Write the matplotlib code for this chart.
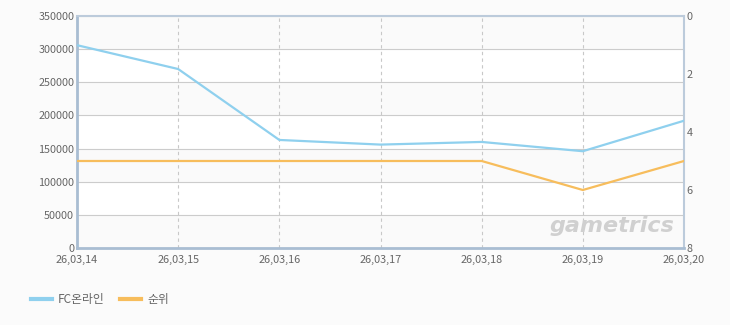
import matplotlib
matplotlib.use('Agg')
import matplotlib.pyplot as plt
from matplotlib.lines import Line2D

plt.rcParams['font.family'] = ['Noto Sans CJK KR', 'DejaVu Sans']

dates = ['26,03,14', '26,03,15', '26,03,16', '26,03,17', '26,03,18', '26,03,19', '26,03,20']
users = [306000, 270000, 163000, 156000, 160000, 146000, 192000]
rank = [5, 5, 5, 5, 5, 6, 5]

blue = '#8fd0ee'
orange = '#f7bd5c'
text_c = '#666666'

fig = plt.figure(figsize=(7.3, 3.25), dpi=100, facecolor='#fbfbfb')
ax = fig.add_axes([77 / 730, 77 / 325, 607 / 730, 232 / 325])
ax.set_facecolor('white')

x = list(range(len(dates)))
ax.set_xlim(0, len(dates) - 1)
ax.set_ylim(0, 350000)

# alternating bands
for i in range(7):
    if i % 2 == 0:
        ax.axhspan(350000 - 50000 * (i + 1), 350000 - 50000 * i, color='#fafafa', zorder=0)

ax.set_yticks(range(0, 350001, 50000))
ax.yaxis.grid(True, color='#cccccc', linewidth=0.8)
for xi in x[1:-1]:
    ax.axvline(xi, color='#c8c8c8', linestyle=(0, (3, 3)), linewidth=0.8, zorder=1)
ax.set_axisbelow(True)

ax.plot(x, users, color=blue, linewidth=1.6, zorder=3)

ax.set_xticks(x)
ax.set_xticklabels(dates)
ax.tick_params(axis='both', length=0, labelsize=7.8, colors=text_c, pad=2)
ax.tick_params(axis='x', pad=5)

for s in ['left', 'bottom']:
    ax.spines[s].set_color('#a9bdd2')
    ax.spines[s].set_linewidth(2)
for s in ['top', 'right']:
    ax.spines[s].set_color('#bccbdb')
    ax.spines[s].set_linewidth(1.5)

ax2 = ax.twinx()
ax2.set_ylim(8, 0)
ax2.set_yticks([0, 2, 4, 6, 8])
ax2.plot(x, rank, color=orange, linewidth=1.6, zorder=3)
ax2.tick_params(axis='y', length=0, labelsize=7.8, colors=text_c, pad=2)
for s in ax2.spines.values():
    s.set_visible(False)

ax.text(0.985, 0.05, 'gametrics', transform=ax.transAxes, ha='right', va='bottom',
        fontsize=16, fontstyle='italic', fontweight='bold', color='#d0d0d0',
        family='DejaVu Sans', zorder=2)

handles = [Line2D([0], [0], color=blue, linewidth=3),
           Line2D([0], [0], color=orange, linewidth=3)]
fig.legend(handles, ['FC온라인', '순위'], loc='center left', bbox_to_anchor=(20 / 730, 1 - 300 / 325),
           ncol=2, frameon=False, fontsize=8.5, labelcolor=text_c, handlelength=1.8,
           handletextpad=0.5, columnspacing=1.3)

fig.savefig('out.png', dpi=100, facecolor=fig.get_facecolor())
